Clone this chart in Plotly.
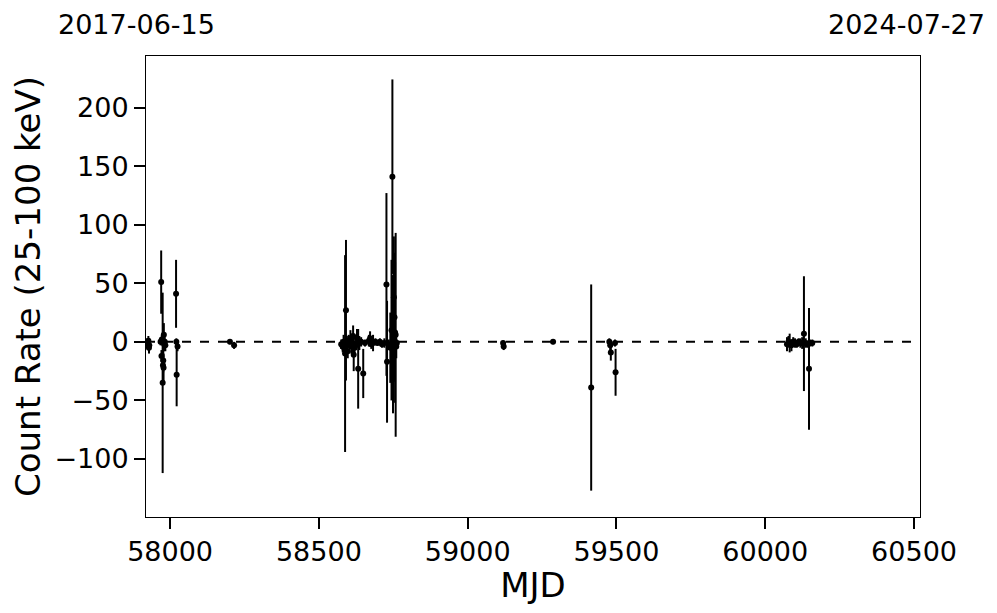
import plotly.graph_objects as go

# ---- data ----
mjd = [
    57925, 57927, 57929, 57930, 57968, 57970, 57971, 57972, 57975, 57976,
    57977, 57978, 57979, 57980, 57982, 57984, 58020, 58021, 58022, 58025,
    58201, 58215,
    58575, 58580, 58583, 58586, 58588, 58591, 58594, 58597, 58600, 58603,
    58606, 58609, 58612, 58615, 58617, 58620, 58625, 58628, 58632, 58636,
    58642, 58649, 58655, 58668, 58672, 58676, 58682, 58690, 58697, 58705,
    58712, 58720, 58727, 58729, 58735, 58740, 58744, 58747, 58749, 58752,
    58754, 58756, 58758, 58760, 58762,
    59119, 59121, 59287, 59415, 59476, 59479, 59481, 59495, 59497,
    60073, 60078, 60082, 60088, 60094, 60100, 60106, 60112, 60118, 60124,
    60130, 60136, 60142, 60147, 60150, 60158,
]
rate = [
    -2, 1, -5, -3, 0, 51, -12, 2, -35, -20,
    -16, -22, 6, -2, 0, -3, 41, 0, -28, -4,
    0, -3,
    -2, -4, 0, -6, -10, 27, -3, -8, 1, -2,
    3, -4, -1, 5, -11, -5, -2, 3, -23, -1,
    0, -27, -1, 1, 3, -2, -1, 0, -1, 0,
    -2, -1, 49, -17, -2, -5, 10, 141, -2, 38,
    21, 8, 6, -4, -1,
    -1, -4, 0, -39, 0, -3, -9, -1, -26,
    -2, 0, -1, -3, 0, -1, -2, 0, -1, -1,
    7, -1, -2, -23, -1, -1,
]
err = [
    5, 4, 5, 4, 3, 27, 5, 4, 77, 15,
    10, 12, 10, 6, 4, 5, 29, 3, 27, 4,
    2, 3,
    4, 5, 6, 5, 84, 60, 8, 6, 5, 4,
    7, 6, 8, 9, 14, 6, 5, 8, 34, 6,
    4, 21, 3, 5, 6, 4, 7, 3, 2, 3,
    3, 4, 78, 52, 4, 30, 60, 83, 59, 52,
    55, 60, 87, 10, 3,
    2, 3, 2, 88, 3, 5, 7, 3, 20,
    6, 5, 8, 5, 4, 4, 3, 3, 4, 5,
    49, 4, 3, 52, 3, 3,
]
x_ticks = [58000, 58500, 59000, 59500, 60000, 60500]
x_tick_labels = ["58000", "58500", "59000", "59500", "60000", "60500"]
y_ticks = [-100, -50, 0, 50, 100, 150, 200]
y_tick_labels = ["\u2212100", "\u221250", "0", "50", "100", "150", "200"]
start_date = "2017-06-15"
end_date = "2024-07-27"

FONT = "DejaVu Sans"

fig = go.Figure()
fig.add_trace(go.Scatter(
    x=mjd, y=rate, mode="markers",
    marker=dict(color="black", size=6),
    error_y=dict(type="data", array=err, visible=True, color="black",
                 thickness=2, width=0),
    showlegend=False,
))

fig.add_shape(type="line", xref="paper", x0=0, x1=1, yref="y", y0=0, y1=0,
              line=dict(color="black", width=2, dash="dash"))

fig.add_annotation(text=start_date, xref="paper", yref="paper",
                   x=-0.0123, y=1.068, showarrow=False,
                   xanchor="center", yanchor="middle", borderpad=0,
                   font=dict(family=FONT, size=27, color="black"))
fig.add_annotation(text=end_date, xref="paper", yref="paper",
                   x=0.983, y=1.068, showarrow=False,
                   xanchor="center", yanchor="middle", borderpad=0,
                   font=dict(family=FONT, size=27, color="black"))

axis_common = dict(showline=True, linecolor="black", linewidth=1, mirror=True,
                   ticks="outside", ticklen=11, tickwidth=2, tickcolor="black",
                   showgrid=False, zeroline=False,
                   tickfont=dict(family=FONT, size=27, color="black"))

fig.update_xaxes(range=[57919, 60520], tickvals=x_ticks, ticktext=x_tick_labels,
                 title=dict(text="MJD", font=dict(family=FONT, size=34, color="black"),
                            standoff=5),
                 **axis_common)
fig.update_yaxes(range=[-149.5, 244], tickvals=y_ticks, ticktext=y_tick_labels,
                 title=dict(text="Count Rate (25-100 keV)",
                            font=dict(family=FONT, size=34, color="black"),
                            standoff=8),
                 **axis_common)

fig.update_layout(
    width=981, height=597,
    margin=dict(l=138, r=69, t=48, b=88, autoexpand=False),
    paper_bgcolor="white", plot_bgcolor="white",
    font=dict(family=FONT, color="black"),
)

fig.write_html("out.html")
